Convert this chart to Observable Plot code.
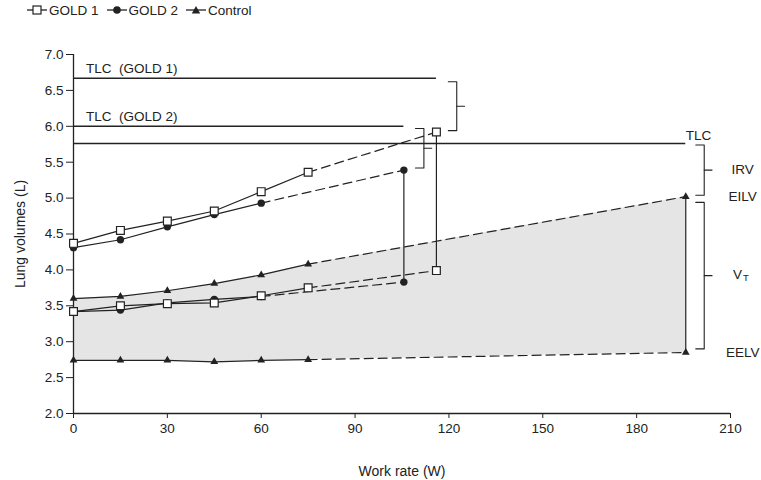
<!DOCTYPE html>
<html><head><meta charset="utf-8">
<script src="https://cdn.jsdelivr.net/npm/d3@7"></script>
<script src="https://cdn.jsdelivr.net/npm/@observablehq/plot@0.6"></script>
<style>
body{margin:0;background:#fff;font-family:"Liberation Sans",Arial,sans-serif;}
#legend{height:20px;display:flex;align-items:center;font-size:13.5px;padding-left:27px;color:#222;box-sizing:border-box}
#legend .item{display:flex;align-items:center;margin-right:8px}
#legend svg{margin-right:2px}
</style></head><body>
<div id="legend"></div>
<div id="chart"></div>
<script>
// ---- data ----
const workRates = [0, 15, 30, 45, 60, 75];
const gold2WorkRates = [0, 15, 30, 45, 60];
const gold1EILV = [4.37, 4.55, 4.68, 4.82, 5.09, 5.36];
const gold1EELV = [3.42, 3.50, 3.53, 3.54, 3.64, 3.75];
const gold2EILV = [4.31, 4.42, 4.60, 4.77, 4.93];
const gold2EELV = [3.42, 3.44, 3.54, 3.59, 3.63];
const controlEILV = [3.60, 3.63, 3.71, 3.81, 3.93, 4.08];
const controlEELV = [2.74, 2.74, 2.74, 2.72, 2.74, 2.75];
const seriesNames = ["GOLD 1", "GOLD 2", "Control"];
const peakWorkRate = [116, 105.6, 195.7];
const peakEILV = [5.92, 5.39, 5.02];
const peakEELV = [3.99, 3.83, 2.85];
const tlcValues = [6.67, 6.00, 5.76];
const tlcLabels = ["TLC  (GOLD 1)", "TLC  (GOLD 2)", "TLC"];
const xTicks = [0, 30, 60, 90, 120, 150, 180, 210];
const yTicks = [2.0, 2.5, 3.0, 3.5, 4.0, 4.5, 5.0, 5.5, 6.0, 6.5, 7.0];

// ---- legend ----
const symbolSvg = {
  "GOLD 1": '<rect x="6" y="3" width="8" height="8" fill="#fff" stroke="#222" stroke-width="1.2"/>',
  "GOLD 2": '<circle cx="10" cy="7" r="3.8" fill="#222"/>',
  "Control": '<path d="M10,3 L14.2,10.5 L5.8,10.5Z" fill="#222"/>'
};
document.getElementById("legend").innerHTML = seriesNames.map(n =>
  `<span class="item"><svg width="20" height="14"><line x1="0" x2="20" y1="7" y2="7" stroke="#222" stroke-width="1.3"/>${symbolSvg[n]}</svg>${n}</span>`
).join("");

// ---- tables ----
const rows = (xs, up, lo) => xs.map((w, i) => ({w, eilv: up[i], eelv: lo[i]}));
const gold1 = rows(workRates, gold1EILV, gold1EELV);
const gold2 = rows(gold2WorkRates, gold2EILV, gold2EELV);
const control = rows(workRates, controlEILV, controlEELV);
const series = [gold1, gold2, control];
const peaks = seriesNames.map((s, i) => ({s, w: peakWorkRate[i], eilv: peakEILV[i], eelv: peakEELV[i], tlc: tlcValues[i], label: tlcLabels[i]}));
const controlArea = [...control, {w: peakWorkRate[2], eilv: peakEILV[2], eelv: peakEELV[2]}];

const solid = [], dashed = [];
series.forEach((rs, i) => {
  ["eilv", "eelv"].forEach(k => {
    rs.forEach(r => solid.push({id: i + k, w: r.w, v: r[k]}));
    const last = rs[rs.length - 1];
    dashed.push({id: i + k, w: last.w, v: last[k]});
    dashed.push({id: i + k, w: peaks[i].w, v: peaks[i][k]});
  });
});

// brackets
const br = [];
function bracket(id, x0, top, bot) {
  const x1 = x0 + 2.7, tip = x1 + 2.5, mid = (top + bot) / 2;
  br.push({id, w: x0, v: top}, {id, w: x1, v: top}, {id, w: x1, v: bot}, {id, w: x0, v: bot});
  br.push({id: id + "t", w: x1, v: mid}, {id: id + "t", w: tip, v: mid});
}
bracket("b0", peaks[0].w + 3.8, peaks[0].tlc - 0.05, peaks[0].eilv + 0.02);
bracket("b1", peaks[1].w + 3.7, peaks[1].tlc - 0.03, peaks[1].eilv + 0.03);
bracket("b2", peaks[2].w + 3.2, peaks[2].tlc - 0.02, peaks[2].eilv + 0.02);
bracket("b3", peaks[2].w + 3.2, peaks[2].eilv - 0.08, peaks[2].eelv + 0.05);

const c = peaks[2];
const rightLabels = [
  {t: "IRV", w: c.w + 18.2, v: (c.tlc + c.eilv) / 2},
  {t: "EILV", w: c.w + 18.2, v: c.eilv},
  {t: "EELV", w: c.w + 18.2, v: c.eelv}
];
const vtY = (c.eilv + c.eelv) / 2;

const ink = "#222";
const chart = Plot.plot({
  width: 761, height: 460,
  marginLeft: 73, marginRight: 31, marginTop: 34, marginBottom: 67,
  style: {fontFamily: "Liberation Sans, Arial, sans-serif", fontSize: "13px", color: ink, background: "#fff"},
  x: {domain: [0, 210]},
  y: {domain: [2, 7]},
  marks: [
    Plot.areaY(controlArea, {x: "w", y1: "eelv", y2: "eilv", fill: "#e5e5e5"}),
    Plot.axisX(xTicks, {tickSize: 5, tickPadding: 5, fontSize: 13.5, label: null, stroke: ink}),
    Plot.axisY(yTicks, {tickSize: 7, tickPadding: 3, fontSize: 13.5, tickFormat: d3.format(".1f"), label: null, stroke: ink}),
    Plot.ruleX([0], {y1: 2, y2: 7, stroke: ink, strokeWidth: 1.3}),
    Plot.ruleY([2], {x1: 0, x2: 210, stroke: ink, strokeWidth: 1.3}),
    Plot.ruleY(peaks, {y: "tlc", x1: () => 0, x2: "w", stroke: ink, strokeWidth: 1.6}),
    Plot.text(peaks.slice(0, 2), {x: () => 4, y: "tlc", text: "label", textAnchor: "start", dy: -10, fontSize: 13.5, fill: ink}),
    Plot.text(peaks.slice(2), {x: "w", y: "tlc", text: "label", textAnchor: "start", dy: -8, fontSize: 13.5, fill: ink}),
    Plot.line(dashed, {x: "w", y: "v", z: "id", stroke: ink, strokeWidth: 1.2, strokeDasharray: "9,5"}),
    Plot.line(solid, {x: "w", y: "v", z: "id", stroke: ink, strokeWidth: 1.2}),
    Plot.ruleX(peaks, {x: "w", y1: "eelv", y2: "eilv", stroke: ink, strokeWidth: 1.2}),
    Plot.line(br, {x: "w", y: "v", z: "id", stroke: ink, strokeWidth: 1.1}),
    Plot.dot([...control, {w: c.w, eilv: c.eilv, eelv: c.eelv}].flatMap(r => [{w: r.w, v: r.eilv}, {w: r.w, v: r.eelv}]),
      {x: "w", y: "v", symbol: "triangle", r: 2.9, fill: ink}),
    Plot.dot([...gold2, {w: peaks[1].w, eilv: peaks[1].eilv, eelv: peaks[1].eelv}].flatMap(r => [{w: r.w, v: r.eilv}, {w: r.w, v: r.eelv}]),
      {x: "w", y: "v", symbol: "circle", r: 3.7, fill: ink}),
    Plot.dot([...gold1, {w: peaks[0].w, eilv: peaks[0].eilv, eelv: peaks[0].eelv}].flatMap(r => [{w: r.w, v: r.eilv}, {w: r.w, v: r.eelv}]),
      {x: "w", y: "v", symbol: "square", r: 4.4, fill: "#fff", stroke: ink, strokeWidth: 1.2}),
    Plot.text(rightLabels, {x: "w", y: "v", text: "t", fontSize: 13.5, fill: ink}),
    Plot.text(["V"], {x: () => c.w + 16.5, y: () => vtY, text: d => d, fontSize: 13.5, fill: ink}),
    Plot.text(["T"], {x: () => c.w + 19.2, y: () => vtY, text: d => d, dy: 3, fontSize: 9.5, fill: ink}),
    Plot.text(["Work rate (W)"], {frameAnchor: "bottom", lineAnchor: "middle", text: d => d, dy: 58, fontSize: 14, fill: ink}),
    Plot.text(["Lung volumes (L)"], {frameAnchor: "left", textAnchor: "middle", lineAnchor: "middle", text: d => d, rotate: -90, dx: -53, fontSize: 14, fill: ink})
  ]
});
document.getElementById("chart").appendChild(chart);
</script>
</body></html>
